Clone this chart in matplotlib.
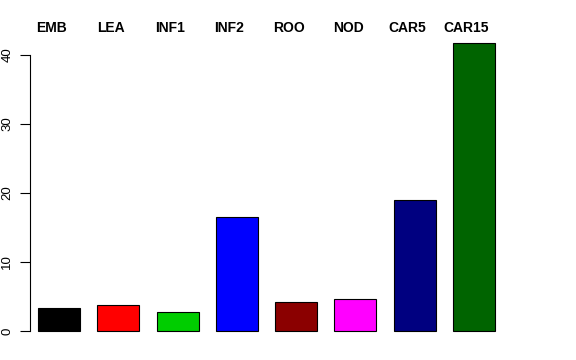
import matplotlib
matplotlib.use("Agg")
import matplotlib.pyplot as plt

categories = ["EMB", "LEA", "INF1", "INF2", "ROO", "NOD", "CAR5", "CAR15"]
values = [3.35, 3.75, 2.8, 16.5, 4.2, 4.6, 19.0, 41.8]
colors = ["#000000", "#FF0000", "#00CD00", "#0000FF", "#8B0000", "#FF00FF", "#000080", "#006400"]

plt.rcParams['font.family'] = ['Liberation Sans', 'DejaVu Sans']
fig = plt.figure(figsize=(5.76, 3.6), dpi=100)
ax = fig.add_axes([30/576, (360-342.5)/360, (503-30)/576, (342.5-31.5)/360])
x = list(range(len(categories)))
ax.bar(x, values, width=0.71, color=colors, edgecolor="black", linewidth=0.8)
ax.set_xlim(-0.489, 7.489)
ax.set_ylim(-1.667, 43.41)
for s in ["top", "right", "bottom"]:
    ax.spines[s].set_visible(False)
ax.spines["left"].set_bounds(0, 40)
ax.spines["left"].set_linewidth(0.8)
ax.set_xticks([])
ax.set_yticks([0, 10, 20, 30, 40])
ax.set_yticklabels(["0", "10", "20", "30", "40"], rotation=90, va="center", fontsize=9.5)
ax.tick_params(axis="y", length=7, width=0.8, pad=5)
for xi, c in zip(x, categories):
    ax.text(xi - 0.125, 43.9, c, ha="center", va="center", fontsize=10, fontweight="bold", clip_on=False)
fig.savefig("out.png", dpi=100)
